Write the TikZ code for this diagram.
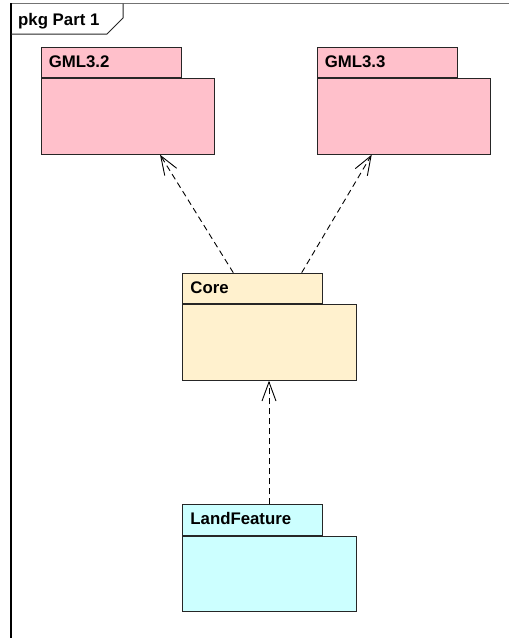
\documentclass[tikz,border=0pt]{standalone}
\usepackage{fontspec}
\setmainfont{Liberation Sans}
\usetikzlibrary{arrows.meta,positioning,calc}
\definecolor{pkgpink}{RGB}{255,192,203}
\definecolor{pkgcorn}{RGB}{255,241,206}
\definecolor{pkgcyan}{RGB}{204,255,255}
\tikzset{%
	pkgtab/.style={draw=black!85,line width=1pt,anchor=north west,inner sep=0pt,inner xsep=7.6pt,minimum width=140pt,minimum height=30.3pt,text width=124.8pt,align=left,text height=12pt,text depth=2.3pt,font=\fontsize{16.8}{18}\selectfont\bfseries},
	pkgbody/.style={draw=black!85,line width=1pt,anchor=north west,inner sep=0pt,minimum width=173.3pt,minimum height=75.7pt},
	depends/.style={dash pattern=on 6pt off 4pt,line width=0.9pt,-{Straight Barb[length=19pt,width=14pt,line width=0.9pt]}},
}
\begin{document}
\begin{tikzpicture}[x=1pt,y=-1pt]
			\useasboundingbox (0,0) rectangle (509,638);
			
			%OKVIR
			\draw[black!55, line width=1.3pt] (11,3.5) -- (509,3.5);
			\draw[black, line width=1.3pt] (11,3) -- (11,638);
			\draw[black!85, line width=1pt] (11,34) -- (107,34) -- (123,18) -- (123,3.5);
			\node[anchor=base west, inner sep=0pt, font=\fontsize{16.8}{18}\selectfont\bfseries] (framelabel) at (18,25) {pkg Part 1};
			
			%PAKETI
			\node[pkgtab, fill=pkgpink] (gml32tab) at (40.7,46.7) {GML3.2};
			\node[pkgbody, fill=pkgpink] (gml32) at (gml32tab.south west) {};
			
			\node[pkgtab, fill=pkgpink] (gml33tab) at (316.7,46.7) {GML3.3};
			\node[pkgbody, fill=pkgpink] (gml33) at (gml33tab.south west) {};
			
			\node[pkgtab, fill=pkgcorn] (coretab) at (182.3,272.7) {Core};
			\node[pkgbody, fill=pkgcorn] (core) at (coretab.south west) {};
			
			\node[pkgtab, fill=pkgcyan] (landtab) at (182.3,504.3) {LandFeature};
			\node[pkgbody, fill=pkgcyan] (land) at (landtab.south west) {};
			
			%ODVISNOSTI
			\draw[depends] ($(coretab.north west)+(51,0)$) -- ($(gml32.south west)+(119.3,0)$); %core -> GML3.2
			\draw[depends] ($(coretab.north west)+(119.4,0)$) -- ($(gml33.south west)+(55,0)$); %core -> GML3.3
			\draw[depends] ($(landtab.north west)+(86.7,0)$) -- ($(core.south west)+(86.7,0)$); %LandFeature -> core
			
\end{tikzpicture}
\end{document}
